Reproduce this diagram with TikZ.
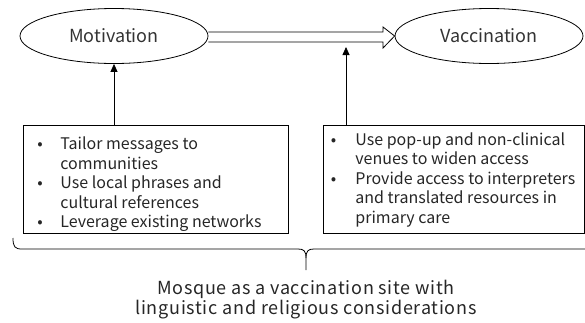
\documentclass[tikz,border=0pt]{standalone}
\usepackage{fontspec}
\setmainfont{Noto Sans CJK JP}
\newfontfamily\labfont[LetterSpace=4]{Noto Sans CJK JP}
\usetikzlibrary{shapes.geometric,arrows.meta,calc}
\newcommand{\bitem}[3]{\makebox[#1][l]{\hspace*{#2}\textbullet}#3}
\newcommand{\citem}[2]{\hspace*{#1}#2}
\tikzset{
  oval/.style={draw, ellipse, line width=0.8pt, minimum width=188pt, minimum height=55pt, inner sep=0pt, font=\fontsize{18}{20}\selectfont, text=black!80},
  listbox/.style={draw, line width=0.8pt, anchor=north west, inner sep=0pt, text=black!85},
  upar/.style={line width=0.8pt, -{Triangle[width=7pt,length=8pt]}},
  wire/.style={line width=0.8pt}
}
\begin{document}
\begin{tikzpicture}[x=1pt,y=-1pt]
\useasboundingbox (0,0) rectangle (585,322);
\node[oval] (mot) at (114,36) {Motivation};
\node[oval] (vac) at (489,36) {Vaccination};
\node[listbox] (lbox) at (23,125) {\parbox[c][108pt][t]{265pt}{\fontsize{16}{19.5}\selectfont\raggedright
\vspace*{11.5pt}
\bitem{37pt}{14pt}{Tailor messages to}\\
\citem{37pt}{communities}\\
\bitem{37pt}{14pt}{Use local phrases and}\\
\citem{37pt}{cultural references}\\
\bitem{37pt}{14pt}{Leverage existing networks}}};
\node[listbox] (rbox) at (323,125) {\parbox[c][108pt][t]{261pt}{\fontsize{16}{19.5}\selectfont\raggedright
\vspace*{7pt}
\bitem{32pt}{7.5pt}{Use pop-up and non-clinical}\\
\citem{32pt}{venues to widen access}\\
\bitem{32pt}{7.5pt}{Provide access to interpreters}\\
\citem{32pt}{and translated resources in}\\
\citem{32pt}{primary care}}};
% double arrow
\draw[wire, line join=miter] ($(mot.east)+(0,-4)$) -- (383,32) -- (383,27) -- (vac.west) -- (383,48) -- (383,42) -- ($(mot.east)+(0,6)$);
\draw[upar] (mot.south |- lbox.north) -- (mot.south);
\coordinate (rin) at (346,47);
\draw[upar] (rin |- rbox.north) -- (rin);
% brace
\draw[wire] (13,238) .. controls (13,247) and (15,249) .. (22,249) -- (298,249) .. controls (304,249) and (306,251) .. (306,258) -- (306,270);
\draw[wire] (585,249) -- (314,249) .. controls (308,249) and (306,251) .. (306,258);
\node[align=center, font=\labfont\fontsize{18}{20}\selectfont, text=black!85] (lab) at (306,300) {Mosque as a vaccination site with\\linguistic and religious considerations};
\end{tikzpicture}
\end{document}
